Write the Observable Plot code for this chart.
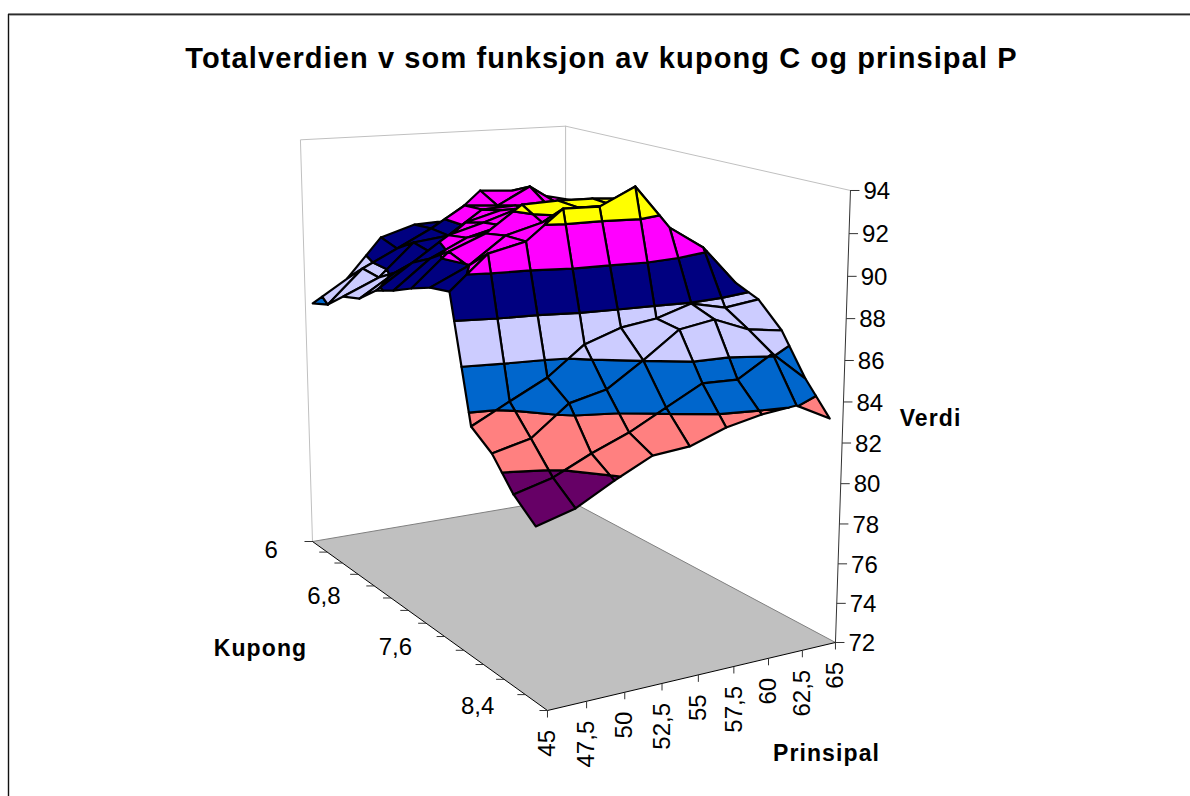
<!DOCTYPE html>
<html><head><meta charset="utf-8">
<style>html,body{margin:0;padding:0;background:#fff;overflow:hidden}svg{display:block}</style>
<script src="https://cdn.jsdelivr.net/npm/d3@7"></script>
<script src="https://cdn.jsdelivr.net/npm/@observablehq/plot@0.6"></script>
</head><body><div id="chart"></div>
<script>
const kupong = [6,6.2,6.4,6.6,6.8,7,7.2,7.4,7.6,7.8,8,8.2,8.4];
const prinsipal = [45,47.5,50,52.5,55,57.5,60,62.5,65];
const verdiK60 = [85.48,86.64,88.7,89.25,89.32,90.85,90.72,90.32,89.9];
const verdiK62 = [85.8,87.53,88.43,89.35,90.45,90.31,91.23,90.04,89.63];
const verdiK64 = [86.6,87.41,89.08,89.29,90.53,90.61,90.47,90.34,89.65];
const verdiK66 = [86.87,88.03,88.89,90.29,90.78,90.54,90.77,90.64,89.4];
const verdiK68 = [87.65,88.88,90.1,90.6,91.18,91.2,91.17,90.93,89.45];
const verdiK70 = [88.02,89.43,90.3,90.76,91.43,91.6,91.62,90.71,89.24];
const verdiK72 = [88.49,90.1,90.83,92.1,92.17,92.14,92.01,90.65,89.04];
const verdiK74 = [88.9,89.75,91.05,91.53,92.12,92.09,91.6,90.2,88.75];
const verdiK76 = [89.08,90.68,91.09,92.5,92.46,93.3,91.16,90.02,88.07];
const verdiK78 = [83.19,84.12,85.02,86.38,86.98,87.22,87.76,87.37,87.59];
const verdiK80 = [82.43,82.86,84.25,84.66,85.82,87.09,87.37,86.68,86.42];
const verdiK82 = [81.07,81.55,82.39,83.1,84.02,84.93,84.88,85.91,84.46];
const verdiK84 = [80.18,80.68,81.66,82.53,82.68,83.3,83.66,83.84,82.95];
const verdiRows = [verdiK60,verdiK62,verdiK64,verdiK66,verdiK68,verdiK70,verdiK72,verdiK74,verdiK76,verdiK78,verdiK80,verdiK82,verdiK84];
const verdiTicks = [72,74,76,78,80,82,84,86,88,90,92,94];
const kupongLabels = ["6","6,8","7,6","8,4"];
const prinsipalLabels = ["45","47,5","50","52,5","55","57,5","60","62,5","65"];
const bandLow = [79.8,81.8,83.8,85.8,87.8,89.8,91.8];
const bandColors = ["#660066","#FF8080","#0066CC","#CCCCFF","#000080","#FF00FF","#FFFF00"];

// camera of the 3-D box: u along Kupong (0..1), v along Prinsipal (0..1), w along Verdi (0..1)
const cam = {ax:127.2,bx:298.5,cx:312, ay:29.1,by:-2.9,cy:541, g:-0.19705,h:0.08056, s:-0.04606, vx:562, vy:8860};
function project(u,v,val){
  const w=(val-72)/22, t=w*cam.s, d=1+cam.g*u+cam.h*v+t;
  return {x:(cam.ax*u+cam.bx*v+cam.cx+t*cam.vx)/d, y:(cam.ay*u+cam.by*v+cam.cy+t*cam.vy)/d};
}
const uOf = i => (i+0.5)/kupong.length;          // categories sit in the middle of their cell
const vOf = j => j/(prinsipal.length-1);

function clip(poly,test,level){
  const out=[];
  poly.forEach((a,n)=>{
    const b=poly[(n+1)%poly.length], ia=test(a.val,level), ib=test(b.val,level);
    if(ia) out.push(a);
    if(ia!==ib){const f=(level-a.val)/(b.val-a.val); out.push({x:a.x+f*(b.x-a.x),y:a.y+f*(b.y-a.y),val:level});}
  });
  return out;
}
const surface=[]; let id=0;
for(let i=0;i<kupong.length-1;i++){
  for(let j=prinsipal.length-2;j>=0;j--){
    const corner=(r,c)=>({...project(uOf(r),vOf(c),verdiRows[r][c]),val:verdiRows[r][c]});
    const quad=[corner(i,j),corner(i,j+1),corner(i+1,j+1),corner(i+1,j)];
    bandLow.forEach((lo,b)=>{
      let p=clip(quad,(a,l)=>a>=l,lo);
      if(p.length>2) p=clip(p,(a,l)=>a<=l,lo+2);
      if(p.length>2){ id++; [...p,p[0]].forEach(q=>surface.push({x:q.x,y:q.y,id,fill:bandColors[b]})); }
    });
  }
}
const pts=(list)=>list.map(([u,v,val])=>project(u,v,val));
const floor=pts([[0,0,72],[1,0,72],[1,1,72],[0,1,72],[0,0,72]]);
const wallLines=[[[0,0,72],[0,0,94],[0,1,94],[1,1,94]],[[0,1,72],[0,1,94]]].map(pts);
const wall=wallLines.flatMap((l,n)=>l.map(q=>({...q,n})));
const floorBack=pts([[0,0,72],[0,1,72],[1,1,72]]);
const floorFront=pts([[0,0,72],[1,0,72],[1,1,72]]);
const valueAxis=pts([[1,1,72],[1,1,94]]);
const vTicks=verdiTicks.map(val=>({val,...project(1,1,val)}));
const kTicks=d3.range(kupong.length+1).map(i=>project(i/kupong.length,0,72));
const pTicks=prinsipal.map((p,j)=>({label:prinsipalLabels[j],...project(1,vOf(j),72)}));
const kLabels=kupongLabels.map((label,n)=>({label,...project(uOf(n*4),0,72)}));
const frame=[{x:8,y:800},{x:8,y:13.7},{x:1190,y:13.7}];
const frameShade=[{x:9,y:14.8},{x:1190,y:14.8}];
const font="Liberation Sans";

const chart=Plot.plot({
  width:1190,height:796,margin:0,
  x:{domain:[0,1190],range:[0,1190],axis:null},
  y:{domain:[0,796],range:[0,796],axis:null},
  color:{type:"identity"},
  style:{background:"#fff",fontFamily:font},
  marks:[
    Plot.line(frame,{x:"x",y:"y",stroke:"#111",strokeWidth:1.4}),
    Plot.line(frameShade,{x:"x",y:"y",stroke:"#999",strokeWidth:1}),
    Plot.line(wall,{x:"x",y:"y",z:"n",stroke:"#c0c0c0",strokeWidth:1}),
    Plot.line(floor,{x:"x",y:"y",fill:"#c0c0c0",stroke:"none"}),
    Plot.line(floorBack,{x:"x",y:"y",stroke:"#808080",strokeWidth:1}),
    Plot.line(floorFront,{x:"x",y:"y",stroke:"#000",strokeWidth:1}),
    Plot.line(surface,{x:"x",y:"y",z:"id",fill:"fill",stroke:"#000",strokeWidth:2.2,strokeLinejoin:"round"}),
    Plot.line(valueAxis,{x:"x",y:"y",stroke:"#333",strokeWidth:1}),
    Plot.link(vTicks,{x1:"x",y1:"y",x2:d=>d.x+9,y2:"y",stroke:"#333",strokeWidth:1}),
    Plot.link(kTicks,{x1:"x",y1:"y",x2:d=>d.x-8,y2:"y",stroke:"#333",strokeWidth:1}),
    Plot.link(pTicks,{x1:"x",y1:"y",x2:"x",y2:d=>d.y+7,stroke:"#333",strokeWidth:1}),
    Plot.text(vTicks,{x:d=>d.x+13,y:d=>d.y+1,text:d=>String(d.val),textAnchor:"start",fontSize:24,fill:"#000"}),
    Plot.text(kLabels,{x:d=>d.x-42,y:d=>d.y+4,text:"label",textAnchor:"end",fontSize:24,fill:"#000"}),
    Plot.text(pTicks,{x:"x",y:d=>d.y+19.5,text:"label",rotate:-90,textAnchor:"end",fontSize:24,fill:"#000"}),
    Plot.text(["Totalverdien v som funksjon av kupong C og prinsipal P"],{x:()=>601,y:()=>58,fontSize:29,fontWeight:"bold",fill:"#000"}),
    Plot.text(["Kupong"],{x:()=>260,y:()=>648,fontSize:23,fontWeight:"bold",fill:"#000"}),
    Plot.text(["Prinsipal"],{x:()=>826,y:()=>753,fontSize:23,fontWeight:"bold",fill:"#000"}),
    Plot.text(["Verdi"],{x:()=>930,y:()=>418,fontSize:23,fontWeight:"bold",fill:"#000"})
  ]
});
chart.querySelectorAll('[font-weight="bold"]').forEach(g=>g.style.letterSpacing="1.1px");
document.getElementById("chart").append(chart);
</script></body></html>
